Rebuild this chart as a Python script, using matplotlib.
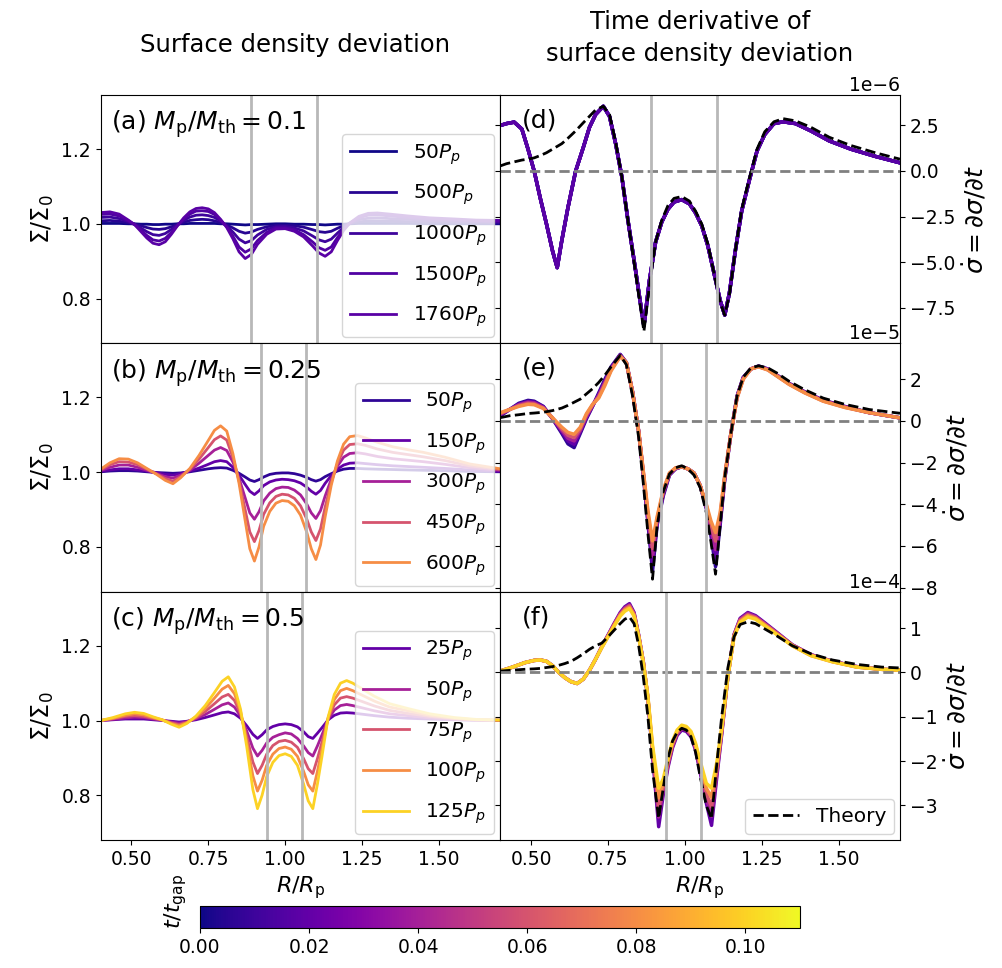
import matplotlib.pyplot as plt
import matplotlib as mpl
import numpy as np

# ---------------- left column: surface density deviation -----------------
# radius grids (R/R_p)
r_a = [0.40, 0.43, 0.46, 0.49, 0.51, 0.53, 0.55, 0.57, 0.59, 0.61, 0.63, 0.65, 0.67, 0.69, 0.71, 0.73,
       0.75, 0.77, 0.79, 0.81, 0.83, 0.85, 0.87, 0.89, 0.91, 0.94, 0.97, 1.00, 1.03, 1.06, 1.09, 1.11,
       1.13, 1.15, 1.17, 1.19, 1.21, 1.24, 1.27, 1.30, 1.34, 1.40, 1.47, 1.55, 1.62, 1.70]
r_b = [0.40, 0.43, 0.46, 0.49, 0.52, 0.55, 0.58, 0.61, 0.635, 0.66, 0.69, 0.72, 0.75, 0.77, 0.79, 0.81,
       0.83, 0.85, 0.87, 0.885, 0.90, 0.915, 0.93, 0.95, 0.97, 0.99, 1.01, 1.03, 1.05, 1.07, 1.085, 1.10,
       1.115, 1.13, 1.15, 1.17, 1.19, 1.21, 1.235, 1.26, 1.30, 1.35, 1.40, 1.45, 1.52, 1.60, 1.70]
r_c = [0.40, 0.44, 0.48, 0.51, 0.54, 0.57, 0.60, 0.63, 0.655, 0.68, 0.71, 0.74, 0.77, 0.795, 0.815,
       0.835, 0.855, 0.875, 0.895, 0.91, 0.925, 0.94, 0.96, 0.98, 1.00, 1.02, 1.04, 1.06, 1.075, 1.09,
       1.105, 1.12, 1.14, 1.16, 1.18, 1.20, 1.22, 1.25, 1.29, 1.34, 1.40, 1.47, 1.55, 1.62, 1.70]

# Sigma/Sigma_0 - 1, in units of 1e-3
dev_a = {
    50: [1, 1, 1, 0, 0, -1, -1, -2, -2, -1, -1, 0, 0, 1, 1, 1, 1, 1, 0, 0, -1, -2, -3, -2, -2, -1, 0, 0,
         -1, -1, -2, -2, -3, -2, -1, -1, 0, 1, 1, 1, 1, 1, 0, 0, 0, 0],
    500: [8, 9, 7, 3, -1, -5, -10, -14, -15, -13, -8, -1, 4, 9, 11, 12, 11, 8, 3, -3, -11, -20, -25, -22,
          -15, -8, -4, -4, -5, -9, -16, -21, -23, -20, -12, -5, 1, 5, 8, 8, 7, 6, 4, 4, 3, 2],
    1000: [17, 18, 14, 6, -1, -11, -21, -29, -31, -26, -15, -3, 9, 18, 23, 24, 22, 17, 7, -6, -22, -41,
           -51, -45, -30, -15, -8, -7, -11, -19, -33, -43, -48, -41, -25, -10, 1, 11, 15, 16, 14, 12, 9,
           7, 6, 5],
    1500: [25, 26, 21, 8, -2, -16, -31, -43, -46, -39, -23, -4, 13, 26, 34, 35, 33, 25, 10, -8, -33, -62,
           -76, -67, -45, -23, -11, -11, -16, -29, -49, -64, -71, -62, -37, -15, 2, 16, 23, 24, 21, 17,
           13, 11, 8, 7],
    1760: [30, 32, 26, 10, -2, -20, -38, -52, -56, -48, -28, -5, 16, 32, 41, 43, 40, 30, 12, -10, -40,
           -75, -93, -82, -55, -28, -14, -13, -20, -35, -60, -78, -87, -75, -45, -18, 2, 20, 28, 29, 26,
           21, 16, 13, 10, 9],
}
dev_b = {
    50: [1, 3, 4, 4, 3, 1, -1, -2, -3, -2, 1, 5, 9, 11, 12, 11, 5, -3, -13, -21, -25, -20, -13, -6, -3,
         -2, -2, -4, -8, -14, -20, -24, -20, -12, -4, 3, 8, 10, 10, 9, 8, 7, 6, 5, 4, 2, 1],
    150: [2, 6, 9, 9, 6, 3, -1, -6, -8, -4, 3, 11, 21, 28, 31, 28, 13, -8, -33, -51, -60, -50, -36, -26,
          -21, -19, -20, -23, -29, -40, -51, -59, -49, -30, -9, 8, 19, 24, 25, 23, 20, 17, 15, 13, 10, 6, 2],
    300: [4, 13, 19, 19, 13, 5, -3, -12, -16, -8, 5, 24, 45, 59, 66, 58, 27, -16, -69, -109, -126, -106,
          -77, -56, -44, -40, -41, -48, -61, -85, -109, -124, -103, -64, -19, 16, 40, 50, 52, 49, 42, 36,
          32, 28, 21, 12, 5],
    450: [6, 20, 28, 27, 20, 8, -4, -17, -24, -12, 8, 35, 66, 87, 97, 86, 39, -23, -101, -160, -186, -156,
          -113, -82, -65, -59, -61, -70, -90, -125, -160, -183, -152, -94, -27, 23, 59, 74, 76, 72, 62,
          53, 47, 41, 31, 17, 7],
    600: [8, 25, 36, 35, 25, 10, -5, -22, -31, -15, 10, 45, 85, 112, 124, 110, 50, -30, -130, -205, -238,
          -200, -145, -105, -83, -76, -78, -90, -115, -160, -205, -234, -195, -120, -35, 30, 75, 95, 98,
          92, 80, 68, 60, 53, 40, 22, 9],
}
dev_c = {
    25: [0, 2, 4, 4, 4, 2, 0, -2, -4, -2, 2, 8, 15, 21, 23, 18, 6, -14, -37, -48, -38, -25, -16, -11, -9,
         -11, -17, -30, -43, -48, -34, -19, 2, 14, 20, 21, 20, 17, 13, 9, 6, 4, 2, 1, 0],
    50: [0, 3, 7, 9, 8, 4, 1, -4, -7, -3, 5, 16, 30, 42, 47, 36, 12, -28, -74, -95, -80, -60, -45, -38,
         -33, -36, -48, -68, -86, -95, -68, -38, 4, 28, 40, 43, 40, 34, 26, 18, 13, 7, 3, 1, 0],
    75: [0, 5, 11, 13, 11, 6, 1, -6, -11, -5, 7, 24, 45, 63, 70, 54, 18, -42, -111, -142, -120, -90, -67,
         -56, -53, -58, -72, -102, -129, -142, -102, -57, 6, 42, 60, 64, 60, 51, 39, 27, 19, 11, 5, 2, 1],
    100: [0, 6, 14, 18, 15, 8, 2, -8, -14, -6, 10, 32, 60, 84, 94, 72, 24, -56, -148, -189, -160, -120,
          -90, -75, -71, -77, -96, -136, -172, -189, -136, -76, 8, 56, 80, 86, 80, 68, 52, 36, 26, 14, 6,
          2, 1],
    125: [0, 8, 18, 22, 19, 10, 2, -10, -18, -8, 12, 40, 75, 105, 117, 90, 30, -70, -185, -236, -200,
          -150, -112, -94, -89, -96, -120, -170, -215, -236, -170, -95, 10, 70, 100, 107, 100, 85, 65, 45,
          32, 18, 8, 3, 1],
}

# t / t_gap of each snapshot (sets the colour)
tgap_a = [0.0005, 0.005, 0.01, 0.015, 0.0176]
tgap_b = [0.0067, 0.02, 0.04, 0.06, 0.08]
tgap_c = [0.02, 0.04, 0.06, 0.08, 0.10]

# ---------------- right column: d(Sigma)/dt -----------------
r_d = [0.40, 0.42, 0.445, 0.47, 0.49, 0.51, 0.53, 0.55, 0.57, 0.585, 0.60, 0.62, 0.645, 0.67, 0.69,
       0.71, 0.735, 0.755, 0.775, 0.795, 0.815, 0.835, 0.85, 0.867, 0.885, 0.905, 0.925, 0.945, 0.965,
       0.99, 1.015, 1.035, 1.055, 1.075, 1.095, 1.115, 1.13, 1.145, 1.165, 1.185, 1.21, 1.235, 1.26,
       1.29, 1.32, 1.36, 1.41, 1.47, 1.54, 1.62, 1.70]
# units of 1e-6; all snapshots lie on top of each other
sdot_d = [2.5, 2.6, 2.68, 2.3, 1.2, 0.0, -1.5, -2.9, -4.4, -5.3, -3.8, -2.0, 0.0, 1.3, 2.4, 3.1, 3.55,
          3.0, 1.5, -0.3, -2.7, -4.9, -6.6, -8.5, -6.0, -3.9, -2.8, -2.1, -1.7, -1.57, -1.8, -2.3, -3.0,
          -4.1, -5.6, -7.1, -7.9, -6.7, -4.3, -2.2, -0.5, 1.1, 2.0, 2.6, 2.7, 2.6, 2.2, 1.65, 1.2, 0.8, 0.45]
theory_d = [0.28, 0.4, 0.5, 0.6, 0.65, 0.72, 0.85, 1.0, 1.2, 1.35, 1.5, 1.8, 2.2, 2.65, 3.0, 3.35, 3.55,
            3.1, 1.6, -0.3, -2.7, -5.0, -6.8, -8.8, -6.3, -3.9, -2.7, -1.9, -1.5, -1.4, -1.65, -2.2, -2.9,
            -4.0, -5.6, -7.2, -7.9, -6.8, -4.3, -2.1, -0.4, 1.2, 2.15, 2.7, 2.87, 2.75, 2.4, 1.85, 1.4, 1.0,
            0.65]

r_e = [0.40, 0.43, 0.46, 0.49, 0.51, 0.54, 0.57, 0.60, 0.62, 0.64, 0.66, 0.68, 0.70, 0.72, 0.74, 0.76,
       0.79, 0.81, 0.83, 0.85, 0.865, 0.88, 0.895, 0.91, 0.93, 0.95, 0.97, 0.99, 1.01, 1.03, 1.05, 1.07,
       1.085, 1.10, 1.115, 1.13, 1.15, 1.17, 1.19, 1.215, 1.24, 1.27, 1.30, 1.34, 1.39, 1.45, 1.52, 1.60,
       1.70]
# units of 1e-5
sdot_e = {
    50: [0.24, 0.55, 0.85, 0.99, 0.95, 0.70, 0.10, -0.6, -1.1, -1.28, -0.6, 0.1, 0.7, 1.35, 2.0, 2.6,
         3.2, 2.8, 1.4, -0.5, -2.6, -4.9, -7.2, -5.0, -3.6, -2.6, -2.3, -2.2, -2.3, -2.5, -3.1, -4.2,
         -5.5, -7.0, -5.0, -2.8, -0.6, 1.2, 2.1, 2.5, 2.64, 2.5, 2.2, 1.8, 1.4, 1.0, 0.7, 0.4, 0.15],
    150: [0.28, 0.55, 0.81, 0.94, 0.91, 0.68, 0.11, -0.52, -0.96, -1.12, -0.52, 0.16, 0.72, 1.29, 1.92,
          2.55, 3.18, 2.8, 1.4, -0.5, -2.55, -4.75, -6.84, -4.9, -3.52, -2.58, -2.29, -2.2, -2.3, -2.5,
          -3.1, -4.15, -5.32, -6.59, -4.85, -2.75, -0.6, 1.18, 2.08, 2.5, 2.63, 2.49, 2.19, 1.79, 1.39,
          0.99, 0.69, 0.4, 0.15],
    300: [0.32, 0.55, 0.78, 0.90, 0.87, 0.65, 0.12, -0.45, -0.83, -0.96, -0.45, 0.22, 0.75, 1.22, 1.85,
          2.5, 3.15, 2.8, 1.4, -0.5, -2.5, -4.6, -6.48, -4.8, -3.45, -2.55, -2.28, -2.2, -2.3, -2.5, -3.1,
          -4.1, -5.15, -6.18, -4.7, -2.7, -0.6, 1.15, 2.05, 2.5, 2.62, 2.48, 2.18, 1.78, 1.38, 0.98,
          0.68, 0.4, 0.15],
    450: [0.36, 0.55, 0.74, 0.85, 0.82, 0.62, 0.14, -0.38, -0.69, -0.80, -0.38, 0.29, 0.78, 1.16, 1.78,
          2.45, 3.12, 2.8, 1.4, -0.5, -2.45, -4.45, -6.12, -4.7, -3.38, -2.52, -2.26, -2.2, -2.3, -2.5,
          -3.1, -4.05, -4.98, -5.77, -4.55, -2.65, -0.6, 1.12, 2.02, 2.5, 2.61, 2.46, 2.16, 1.76, 1.36,
          0.96, 0.66, 0.4, 0.15],
    600: [0.40, 0.55, 0.70, 0.80, 0.78, 0.60, 0.15, -0.3, -0.55, -0.64, -0.3, 0.35, 0.8, 1.1, 1.7, 2.4,
          3.1, 2.8, 1.4, -0.5, -2.4, -4.3, -5.76, -4.6, -3.3, -2.5, -2.25, -2.2, -2.3, -2.5, -3.1, -4.0,
          -4.8, -5.36, -4.4, -2.6, -0.6, 1.1, 2.0, 2.5, 2.6, 2.45, 2.15, 1.75, 1.35, 0.95, 0.65, 0.4, 0.15],
}
theory_e = [0.16, 0.25, 0.3, 0.36, 0.38, 0.42, 0.5, 0.62, 0.75, 0.9, 1.05, 1.3, 1.55, 1.85, 2.2, 2.6,
            3.15, 2.7, 1.2, -0.8, -3.0, -5.4, -7.6, -5.0, -3.4, -2.55, -2.25, -2.15, -2.3, -2.6, -3.2,
            -4.4, -5.8, -7.36, -5.0, -2.7, -0.6, 1.2, 2.1, 2.55, 2.65, 2.55, 2.3, 1.9, 1.5, 1.1, 0.8, 0.55,
            0.37]

r_f = [0.40, 0.44, 0.48, 0.51, 0.53, 0.55, 0.57, 0.59, 0.61, 0.63, 0.65, 0.67, 0.69, 0.71, 0.73, 0.75,
       0.77, 0.79, 0.805, 0.82, 0.835, 0.85, 0.865, 0.88, 0.895, 0.915, 0.93, 0.945, 0.96, 0.975, 0.99,
       1.005, 1.02, 1.035, 1.05, 1.07, 1.087, 1.105, 1.12, 1.14, 1.16, 1.18, 1.205, 1.23, 1.26, 1.30,
       1.35, 1.41, 1.48, 1.56, 1.64, 1.70]
# units of 1e-4
sdot_f = {
    25: [0.03, 0.12, 0.22, 0.27, 0.28, 0.25, 0.15, 0.0, -0.12, -0.21, -0.25, -0.15, 0.05, 0.3, 0.58,
         0.84, 1.1, 1.35, 1.48, 1.55, 1.35, 0.84, 0.24, -0.6, -1.85, -3.48, -2.75, -2.15, -1.7, -1.42,
         -1.3, -1.33, -1.45, -1.75, -2.25, -2.95, -3.45, -2.3, -1.4, -0.1, 0.85, 1.22, 1.35, 1.28, 1.12,
         0.9, 0.62, 0.4, 0.25, 0.13, 0.07, 0.05],
    50: [0.03, 0.12, 0.22, 0.27, 0.28, 0.25, 0.15, 0.0, -0.12, -0.21, -0.25, -0.15, 0.05, 0.3, 0.58,
         0.83, 1.09, 1.33, 1.46, 1.52, 1.33, 0.83, 0.24, -0.59, -1.80, -3.26, -2.66, -2.10, -1.66, -1.39,
         -1.27, -1.30, -1.42, -1.71, -2.19, -2.84, -3.24, -2.23, -1.36, -0.1, 0.84, 1.2, 1.33, 1.26, 1.1,
         0.89, 0.62, 0.4, 0.25, 0.13, 0.07, 0.05],
    75: [0.03, 0.12, 0.22, 0.27, 0.28, 0.25, 0.15, 0.0, -0.12, -0.21, -0.25, -0.15, 0.05, 0.3, 0.57,
         0.82, 1.07, 1.31, 1.43, 1.50, 1.31, 0.82, 0.23, -0.58, -1.75, -3.05, -2.58, -2.05, -1.63, -1.36,
         -1.25, -1.28, -1.39, -1.68, -2.13, -2.73, -3.03, -2.15, -1.33, -0.1, 0.83, 1.18, 1.3, 1.24, 1.09,
         0.88, 0.61, 0.39, 0.25, 0.12, 0.07, 0.05],
    100: [0.03, 0.12, 0.22, 0.27, 0.28, 0.25, 0.15, 0.0, -0.12, -0.21, -0.25, -0.15, 0.05, 0.3, 0.56,
          0.81, 1.06, 1.29, 1.41, 1.47, 1.29, 0.81, 0.22, -0.56, -1.70, -2.83, -2.49, -2.0, -1.59, -1.33,
          -1.22, -1.25, -1.36, -1.64, -2.06, -2.61, -2.82, -2.08, -1.29, -0.1, 0.81, 1.15, 1.28, 1.22,
          1.07, 0.86, 0.6, 0.38, 0.24, 0.12, 0.07, 0.05],
    125: [0.03, 0.12, 0.22, 0.27, 0.28, 0.25, 0.15, 0.0, -0.12, -0.21, -0.25, -0.15, 0.05, 0.3, 0.56,
          0.8, 1.04, 1.27, 1.38, 1.44, 1.27, 0.8, 0.22, -0.55, -1.65, -2.61, -2.4, -1.95, -1.55, -1.3,
          -1.19, -1.22, -1.33, -1.6, -2.0, -2.5, -2.61, -2.0, -1.25, -0.1, 0.8, 1.13, 1.25, 1.2, 1.05,
          0.85, 0.6, 0.38, 0.24, 0.12, 0.07, 0.05],
}
theory_f = [0.03, 0.05, 0.07, 0.08, 0.09, 0.11, 0.13, 0.16, 0.2, 0.25, 0.33, 0.42, 0.52, 0.6, 0.66, 0.8,
            0.95, 1.1, 1.2, 1.25, 1.1, 0.6, -0.1, -1.0, -2.2, -3.29, -2.6, -1.95, -1.55, -1.35, -1.26,
            -1.3, -1.45, -1.8, -2.35, -3.0, -3.3, -2.0, -1.0, 0.1, 0.8, 1.08, 1.14, 1.1, 0.98, 0.82, 0.6,
            0.42, 0.28, 0.18, 0.12, 0.1]

# planet zone edges (grey vertical lines)
edges_a = [0.89, 1.105]
edges_b = [0.922, 1.068]
edges_c = [0.94, 1.054]

panel_labels = ["(a) $M_{\\rm p}/M_{\\rm th} = 0.1$", "(b) $M_{\\rm p}/M_{\\rm th} = 0.25$",
                "(c) $M_{\\rm p}/M_{\\rm th} = 0.5$"]

cmap = plt.get_cmap("plasma")
norm = mpl.colors.Normalize(vmin=0.0, vmax=0.11)

fig = plt.figure(figsize=(10.02, 9.68), dpi=100)
gs = fig.add_gridspec(3, 2, left=0.1005, right=0.8982, bottom=0.1322, top=0.9019,
                      wspace=0, hspace=0)
axes = np.empty((3, 2), dtype=object)
for i in range(3):
    for j in range(2):
        share = axes[0, j] if i > 0 else None
        axes[i, j] = fig.add_subplot(gs[i, j], sharex=share)

tick_fs = 13.5
leg_kw = dict(loc="lower right", fontsize=14.5, handlelength=2.3, labelspacing=0.8,
              borderaxespad=0.3)

# left column
left_data = [(r_a, dev_a, tgap_a, edges_a), (r_b, dev_b, tgap_b, edges_b), (r_c, dev_c, tgap_c, edges_c)]
for i, (r, dev, tg, edges) in enumerate(left_data):
    ax = axes[i, 0]
    for (t, d), tt in zip(dev.items(), tg):
        ax.plot(r, 1 + np.array(d) / 1000.0, color=cmap(norm(tt)), lw=2, label=f"${t}P_p$")
    for e in edges:
        ax.axvline(e, color="0.72", lw=2)
    ax.set_ylim(0.68, 1.345)
    ax.set_yticks([0.8, 1.0, 1.2])
    ax.set_ylabel("$\\Sigma/\\Sigma_0$", fontsize=17)
    ax.text(0.025, 0.945, panel_labels[i], transform=ax.transAxes, fontsize=18, va="top")
    ax.legend(**leg_kw)

# right column
right_data = [
    (r_d, {t: sdot_d for t in dev_a}, theory_d, 1e-6, tgap_a, edges_a, (-9.45, 4.17), "(d)"),
    (r_e, sdot_e, theory_e, 1e-5, tgap_b, edges_b, (-8.2, 3.73), "(e)"),
    (r_f, sdot_f, theory_f, 1e-4, tgap_c, edges_c, (-3.78, 1.82), "(f)"),
]
for i, (r, sd, th, unit, tg, edges, ylim, lab) in enumerate(right_data):
    ax = axes[i, 1]
    for (t, d), tt in zip(sd.items(), tg):
        ax.plot(r, np.array(d) * unit, color=cmap(norm(tt)), lw=2.5)
    ax.plot(r, np.array(th) * unit, color="k", ls="--", lw=2, label="Theory")
    ax.axhline(0, color="gray", ls="--", lw=2)
    for e in edges:
        ax.axvline(e, color="0.72", lw=2)
    ax.set_ylim(ylim[0] * unit, ylim[1] * unit)
    ax.yaxis.tick_right()
    ax.yaxis.set_label_position("right")
    ax.tick_params(axis="y", left=True)
    ax.ticklabel_format(axis="y", style="sci", scilimits=(0, 0))
    ax.yaxis.get_offset_text().set_fontsize(tick_fs)
    ax.set_ylabel("$\\dot{\\sigma} = \\partial\\sigma/\\partial t$", fontsize=18)
    ax.text(0.055, 0.945, lab, transform=ax.transAxes, fontsize=18, va="top")
axes[2, 1].legend(**leg_kw)

for ax in axes.flat:
    ax.set_xlim(0.4, 1.7)
    ax.tick_params(labelsize=tick_fs)
for ax in axes[:2].flat:
    ax.tick_params(axis="x", labelbottom=False)
for ax in axes[2]:
    ax.set_xticks([0.5, 0.75, 1.0, 1.25, 1.5])
    ax.set_xticklabels(["0.50", "0.75", "1.00", "1.25", "1.50"])
    ax.set_xlabel("$R/R_{\\rm p}$", fontsize=16)

fig.text(295 / 1002, 1 - 45 / 968, "Surface density deviation", ha="center", va="center", fontsize=17.5)
fig.text(700 / 1002, 1 - 22 / 968, "Time derivative of", ha="center", va="center", fontsize=17.5)
fig.text(700 / 1002, 1 - 54 / 968, "surface density deviation", ha="center", va="center", fontsize=17.5)

# colour bar
cax = fig.add_axes([200 / 1002, 1 - 928 / 968, 600 / 1002, 22 / 968])
sm = mpl.cm.ScalarMappable(norm=norm, cmap=cmap)
cb = fig.colorbar(sm, cax=cax, orientation="horizontal")
cb.set_ticks([0.0, 0.02, 0.04, 0.06, 0.08, 0.10])
cb.set_ticklabels(["0.00", "0.02", "0.04", "0.06", "0.08", "0.10"])
cb.ax.tick_params(labelsize=tick_fs)
cb.ax.set_ylabel("$t/t_{\\rm gap}$", fontsize=16)
cb.ax.yaxis.set_label_coords(-0.018, 1.2)

fig.savefig("out.png", dpi=100)
